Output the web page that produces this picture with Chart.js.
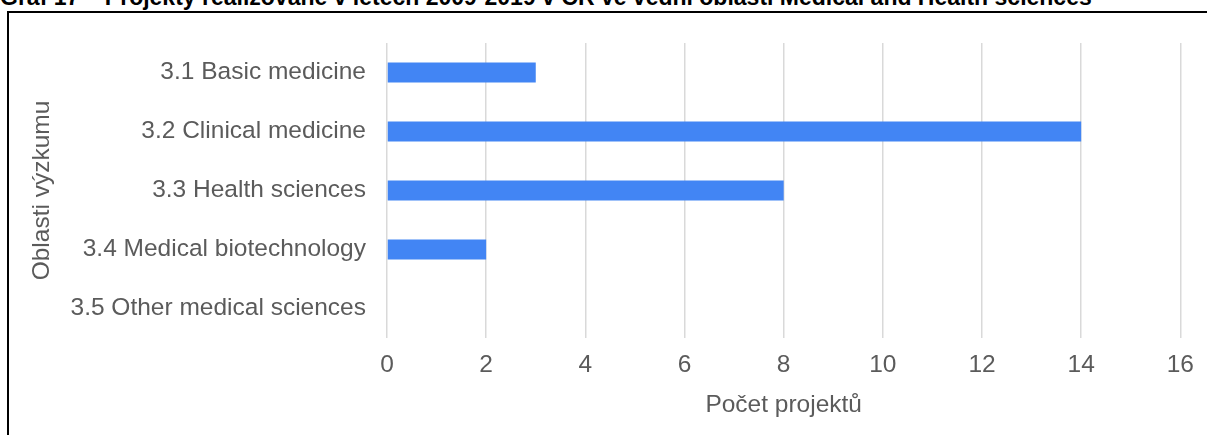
<!DOCTYPE html>
<html>
<head>
<meta charset="utf-8">
<script src="https://cdn.jsdelivr.net/npm/chart.js@4.4.0/dist/chart.umd.min.js"></script>
<style>
  html, body { margin: 0; padding: 0; background: #fff; overflow: hidden; }
  #wrap { position: relative; width: 1207px; height: 435px; overflow: hidden; }
  #title { position: absolute; left: 0px; top: -16px; white-space: nowrap; line-height: 26px;
    font-family: Arial, "Liberation Sans", sans-serif; font-weight: bold; font-size: 23px; color: #000; }
  #frame { position: absolute; left: 7px; top: 11px; width: 1220px; height: 450px;
    border-left: 2px solid #000; border-top: 2px solid #000; }
  #c { position: absolute; left: 0; top: 0; }
</style>
</head>
<body>
<div id="wrap">
  <div id="title">Graf 17 – Projekty realizované v letech 2009-2019 v ČR ve vědní oblasti Medical and Health sciences</div>
  <div id="frame"></div>
  <canvas id="c" width="1207" height="435"></canvas>
</div>
<script>
const categories = [
  '3.1 Basic medicine',
  '3.2 Clinical medicine',
  '3.3 Health sciences',
  '3.4 Medical biotechnology',
  '3.5 Other medical sciences'
];
const projectCounts = [3, 14, 8, 2, 0];
const xAxisTitle = 'Počet projektů';
const yAxisTitle = 'Oblasti výzkumu';

const FONT = 'Arial';
const GRAY = '#5b5b5b';
const FS = 24.5;

new Chart(document.getElementById('c'), {
  type: 'bar',
  data: {
    labels: categories,
    datasets: [{
      data: projectCounts,
      backgroundColor: '#4285f4',
      borderWidth: 0,
      barPercentage: 0.34,
      categoryPercentage: 1.0
    }]
  },
  options: {
    indexAxis: 'y',
    responsive: false,
    animation: false,
    layout: { padding: { top: 43, right: 24, left: 0, bottom: 0 } },
    plugins: { legend: { display: false }, tooltip: { enabled: false } },
    scales: {
      x: {
        min: 0, max: 16,
        ticks: { stepSize: 2, color: GRAY, padding: 13, font: { family: FONT, size: FS } },
        grid: { color: '#d9d9d9', lineWidth: 1.5, drawTicks: false },
        border: { display: false },
        title: { display: true, text: xAxisTitle, color: GRAY, padding: { top: 0, bottom: 15 },
          font: { family: FONT, size: FS } },
        afterFit(scale) { scale.height = 97; }
      },
      y: {
        ticks: { color: GRAY, padding: 21, font: { family: FONT, size: FS } },
        grid: { display: false, drawTicks: false },
        border: { display: false },
        title: { display: true, text: yAxisTitle, color: GRAY, padding: { top: 28, bottom: 0 },
          font: { family: FONT, size: FS } },
        afterFit(scale) { scale.width = 387; }
      }
    }
  }
});
</script>
</body>
</html>
